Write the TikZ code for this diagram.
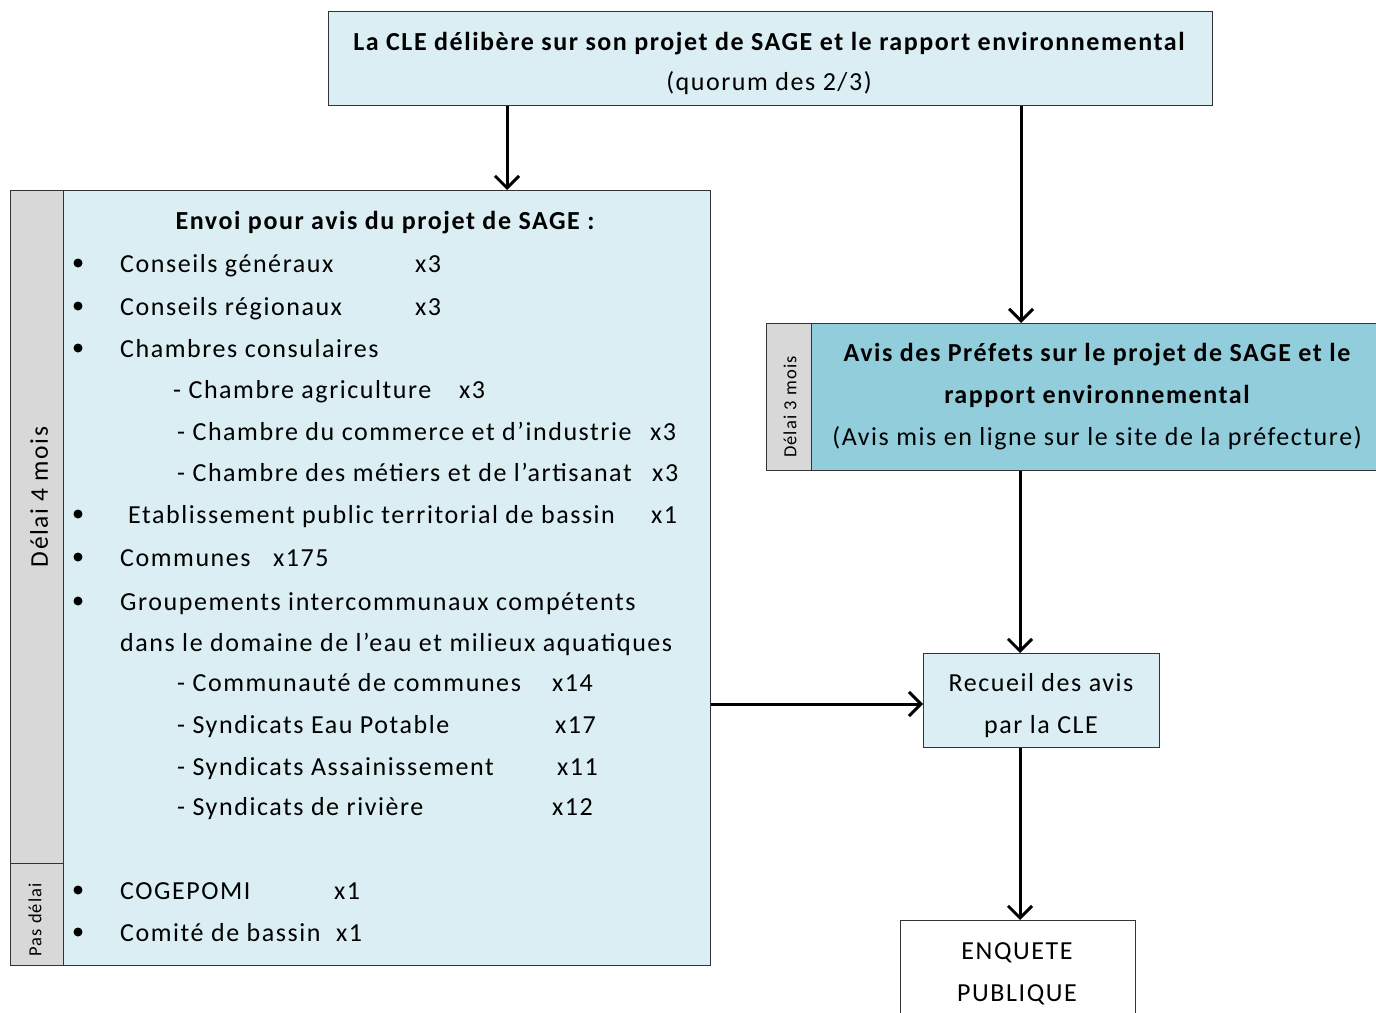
\documentclass[tikz,border=0pt]{standalone}
\usepackage{fontspec}
\setmainfont{Carlito}[LetterSpace=6]
\usetikzlibrary{arrows.meta,calc}
\definecolor{lblue}{HTML}{DAEEF3}
\definecolor{dblue}{HTML}{92CDDC}
\definecolor{lgray}{HTML}{D8D8D8}
\definecolor{edge}{HTML}{333333}
\tikzset{
  box/.style={draw=edge,line width=1.4pt,anchor=north west,inner sep=0pt},
  txt/.style={anchor=base west,inner sep=0pt,yshift=-9pt,font=\fontsize{26}{30}\selectfont},
  ctxt/.style={txt,anchor=base},
  btxt/.style={ctxt,font=\fontsize{26}{30}\selectfont\bfseries},
  rtxt/.style={rotate=90,inner sep=0pt},
  bul/.style={circle,fill=black,inner sep=0pt,minimum size=9pt},
  arr/.style={line width=3pt,-{Straight Barb[length=12pt,width=24pt,line width=3pt]}},
}
\begin{document}
\begin{tikzpicture}[x=1pt,y=-1pt]
\useasboundingbox (0,0) rectangle (1376,1012);
\clip (0,0) rectangle (1376,1012);
% top box
\node[box,fill=lblue,minimum width=884pt,minimum height=94pt] (top) at (328,11) {};
\node[btxt] (t1) at (769,41) {La CLE délibère sur son projet de SAGE et le rapport environnemental};
\node[ctxt] (t2) at (769,81) {(quorum des 2/3)};
% left box
\node[box,fill=lgray,minimum width=53pt,minimum height=673pt] (bar4) at (10,190) {};
\node[box,fill=lgray,minimum width=53pt,minimum height=102pt] (bar0) at (10,863) {};
\node[box,fill=lblue,minimum width=647pt,minimum height=775pt] (envoi) at (63,190) {};
\node[rtxt,font=\fontsize{25.5}{30}\selectfont] (d4) at (39,497) {Délai 4 mois};
\node[rtxt,font=\fontsize{18.5}{22}\selectfont] (d0) at (35,920) {Pas délai};
\node[btxt] (h) at (385,220) {Envoi pour avis du projet de SAGE :};
\foreach \yy/\nm in {263/b1,306/b2,348/b3,514/b4,557/b5,601/b6,890/b7,932/b8}{
  \node[bul] (\nm) at (78,\yy) {};
}
\node[txt] (l1) at (120,263) {Conseils généraux};
\node[txt] (n1) at (415,263) {x3};
\node[txt] (l2) at (120,306) {Conseils régionaux};
\node[txt] (n2) at (415,306) {x3};
\node[txt] (l3) at (120,348) {Chambres consulaires};
\node[txt] (l4) at (173,389) {- Chambre agriculture};
\node[txt] (n4) at (459,389) {x3};
\node[txt] (l5) at (177,431) {- Chambre du commerce et d’industrie};
\node[txt] (n5) at (650,431) {x3};
\node[txt] (l6) at (177,472) {- Chambre des métiers et de l’artisanat};
\node[txt] (n6) at (652,472) {x3};
\node[txt] (l7) at (128,514) {Etablissement public territorial de bassin};
\node[txt] (n7) at (651,514) {x1};
\node[txt] (l8) at (120,557) {Communes};
\node[txt] (n8) at (273,557) {x175};
\node[txt] (l9) at (120,601) {Groupements intercommunaux compétents};
\node[txt] (l10) at (120,642) {dans le domaine de l’eau et milieux aquatiques};
\node[txt] (l11) at (177,682) {- Communauté de communes};
\node[txt] (n11) at (552,682) {x14};
\node[txt] (l12) at (177,724) {- Syndicats Eau Potable};
\node[txt] (n12) at (555,724) {x17};
\node[txt] (l13) at (177,766) {- Syndicats Assainissement};
\node[txt] (n13) at (557,766) {x11};
\node[txt] (l14) at (177,806) {- Syndicats de rivière};
\node[txt] (n14) at (552,806) {x12};
\node[txt] (l15) at (120,890) {COGEPOMI};
\node[txt] (n15) at (334,890) {x1};
\node[txt] (l16) at (120,932) {Comité de bassin};
\node[txt] (n16) at (336,932) {x1};
% avis box
\node[box,fill=lgray,minimum width=45pt,minimum height=147pt] (bar3) at (766,323) {};
\node[box,fill=dblue,minimum width=575pt,minimum height=147pt] (avis) at (811,323) {};
\node[rtxt,font=\fontsize{18.5}{22}\selectfont] (d3) at (790,407) {Délai 3 mois};
\node[btxt] (a1) at (1097,352) {Avis des Préfets sur le projet de SAGE et le};
\node[btxt] (a2) at (1097,394) {rapport environnemental};
\node[ctxt] (a3) at (1097,436) {(Avis mis en ligne sur le site de la préfecture)};
% recueil
\node[box,fill=lblue,minimum width=236pt,minimum height=94pt] (rec) at (923,653) {};
\node[ctxt] (r1) at (1041,682) {Recueil des avis};
\node[ctxt] (r2) at (1041,724) {par la CLE};
% enquete
\node[box,fill=white,minimum width=235pt,minimum height=120pt] (enq) at (900,920) {};
\node[ctxt] (e1) at (1017,950) {ENQUETE};
\node[ctxt] (e2) at (1017,992) {PUBLIQUE};
% arrows
\coordinate (c1) at (1020,0);
\coordinate (c2) at (1021,0);
\coordinate (c0) at (507,0);
\coordinate (c3) at (0,704);
\draw[arr] (top.south -| c0) -- (envoi.north -| c0);
\draw[arr] (top.south -| c2) -- (avis.north -| c2);
\draw[arr] (avis.south -| c1) -- (rec.north -| c1);
\draw[arr] (envoi.east |- c3) -- (rec.west |- c3);
\draw[arr] (rec.south -| c1) -- (enq.north -| c1);
\end{tikzpicture}
\end{document}
